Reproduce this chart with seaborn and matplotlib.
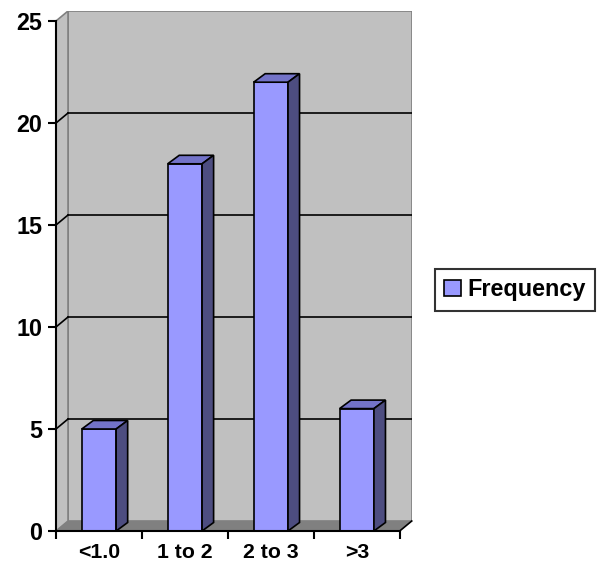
import matplotlib
matplotlib.use("Agg")
import matplotlib.pyplot as plt
from matplotlib.patches import Polygon, Rectangle, Patch
import seaborn as sns
import pandas as pd

categories = ["<1.0", "1 to 2", "2 to 3", ">3"]
frequency = [5, 18, 22, 6]
y_ticks = [0, 5, 10, 15, 20, 25]
series_name = "Frequency"

FRONT = "#9999FF"
TOP = "#7373C8"
SIDE = "#4D4D80"
WALL = "#C0C0C0"
FLOOR = "#808080"
EDGE = "#808080"
FS = 16.8
FS_X = 15.3

plt.rcParams["font.family"] = ["Liberation Sans", "DejaVu Sans"]
plt.rcParams["font.weight"] = "bold"

fig = plt.figure(figsize=(5.97, 5.69), dpi=100)
ax = fig.add_axes([56 / 597, 38 / 569, 355.75 / 597, 520 / 569])

ymax = y_ticks[-1]
# depth of the walls and of the columns, in data units
wdx, wdy = 12 / 85.75, 10 / 20.4
bdx, bdy = 11.5 / 85.75, 8.5 / 20.4
x0, x1 = -0.5, len(categories) - 0.5

# walls and floor
ax.add_patch(Rectangle((x0 + wdx, wdy), x1 - x0, ymax, facecolor=WALL,
                       edgecolor=EDGE, lw=1.2, zorder=0))
ax.add_patch(Polygon([(x0, 0), (x0 + wdx, wdy), (x0 + wdx, ymax + wdy), (x0, ymax)],
                     closed=True, facecolor=WALL, edgecolor=EDGE, lw=1.2, zorder=0))
ax.add_patch(Polygon([(x0, 0), (x1, 0), (x1 + wdx, wdy), (x0 + wdx, wdy)],
                     closed=True, facecolor=FLOOR, edgecolor="none", zorder=0.5))
ax.plot([x1, x1 + wdx], [0, wdy], color="black", lw=1.2, zorder=3, clip_on=False)

# gridlines on back and side walls
for v in y_ticks[1:-1]:
    ax.plot([x0 + wdx, x1 + wdx], [v + wdy, v + wdy], color="black", lw=1.2, zorder=1)
    ax.plot([x0, x0 + wdx], [v, v + wdy], color="black", lw=1.2, zorder=1)

df = pd.DataFrame({"category": categories, "value": frequency})
sns.barplot(data=df, x="category", y="value", color=FRONT, saturation=1,
            width=0.4, edgecolor="black", linewidth=1.2, ax=ax, zorder=2)

# top and side faces of the columns
front_rgb = matplotlib.colors.to_rgb(FRONT)
for bar in list(ax.patches):
    if not isinstance(bar, Rectangle) or tuple(bar.get_facecolor()[:3]) != front_rgb:
        continue
    bx, bw, bh = bar.get_x(), bar.get_width(), bar.get_height()
    ax.add_patch(Polygon([(bx, bh), (bx + bdx, bh + bdy), (bx + bw + bdx, bh + bdy), (bx + bw, bh)],
                         closed=True, facecolor=TOP, edgecolor="black", lw=1.2, zorder=2))
    ax.add_patch(Polygon([(bx + bw, 0), (bx + bw + bdx, bdy), (bx + bw + bdx, bh + bdy), (bx + bw, bh)],
                         closed=True, facecolor=SIDE, edgecolor="black", lw=1.2, zorder=2))

ax.set_xlim(x0, x1 + wdx)
ax.set_ylim(0, ymax + wdy)
ax.set_xlabel("")
ax.set_ylabel("")

for s in ["top", "right"]:
    ax.spines[s].set_visible(False)
ax.spines["left"].set_bounds(0, ymax)
ax.spines["bottom"].set_bounds(x0, x1)
ax.spines["left"].set_linewidth(1.5)
ax.spines["bottom"].set_linewidth(1.5)
ax.spines["left"].set_zorder(3)
ax.spines["bottom"].set_zorder(3)

ax.set_yticks(y_ticks)
ax.set_yticklabels([str(v) for v in y_ticks])
ax.tick_params(axis="y", direction="out", length=6, width=1.5, pad=4, labelsize=FS)
ax.set_xticks(range(len(categories)))
ax.set_xticklabels(categories)
ax.tick_params(axis="x", which="major", length=0, pad=9, labelsize=FS_X)
ax.set_xticks([i - 0.5 for i in range(len(categories) + 1)], minor=True)
ax.tick_params(axis="x", which="minor", direction="out", length=6, width=1.5)
for lab in ax.get_xticklabels() + ax.get_yticklabels():
    lab.set_fontweight("bold")

ax.set_facecolor("none")

leg = fig.legend(handles=[Patch(facecolor=FRONT, edgecolor="black", lw=1.2)],
                 labels=[series_name], loc="upper left",
                 bbox_to_anchor=(435 / 597, 1 - 269 / 569), borderaxespad=0,
                 fancybox=False, shadow=False, frameon=True,
                 prop={"weight": "bold", "size": FS},
                 handlelength=0.7, handleheight=0.7, handletextpad=0.3,
                 borderpad=0.4)
leg.get_frame().set_edgecolor("black")
leg.get_frame().set_linewidth(1.5)

fig.savefig("out.png", dpi=100)
